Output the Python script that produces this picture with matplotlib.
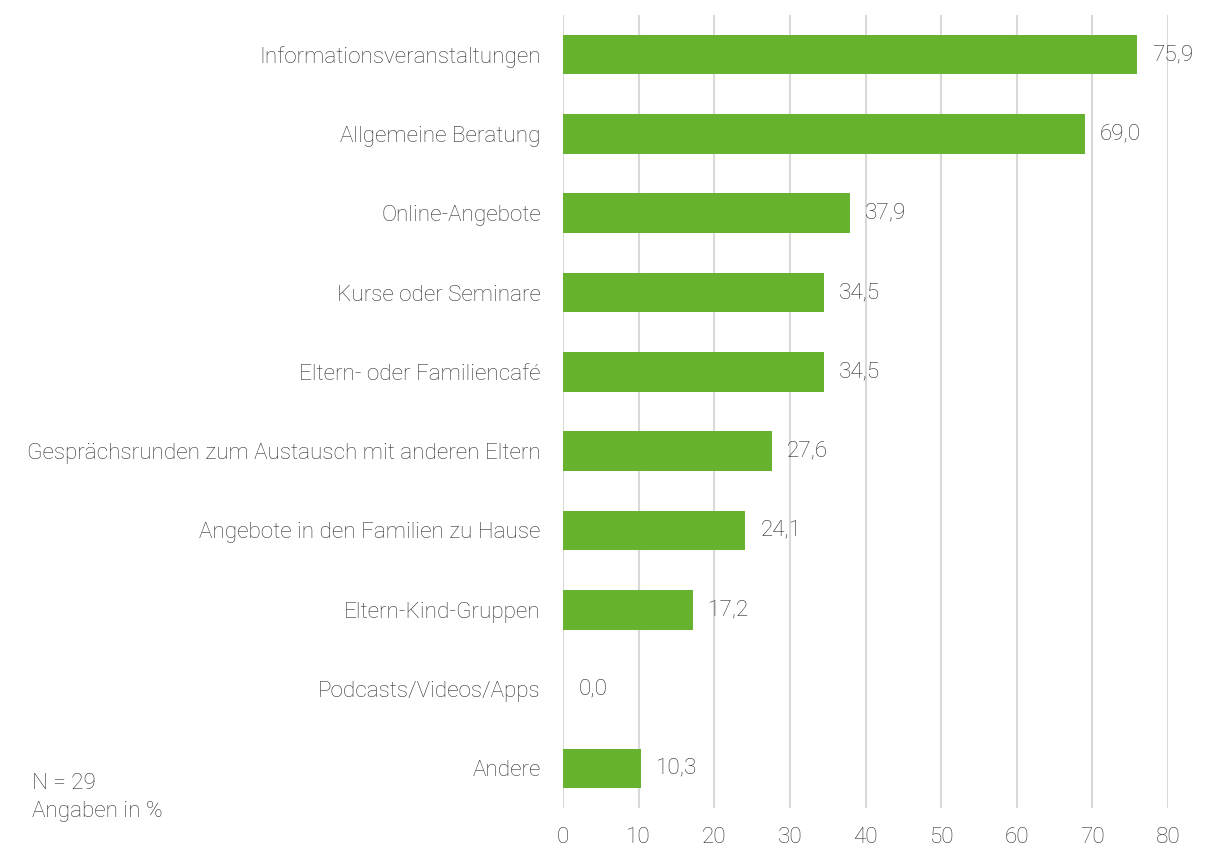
import matplotlib.pyplot as plt

categories = ['Informationsveranstaltungen', 'Allgemeine Beratung', 'Online-Angebote',
              'Kurse oder Seminare', 'Eltern- oder Familiencafé',
              'Gesprächsrunden zum Austausch mit anderen Eltern',
              'Angebote in den Familien zu Hause', 'Eltern-Kind-Gruppen',
              'Podcasts/Videos/Apps', 'Andere']
values = [75.9, 69.0, 37.9, 34.5, 34.5, 27.6, 24.1, 17.2, 0.0, 10.3]
xticks = [0, 10, 20, 30, 40, 50, 60, 70, 80]

plt.rcParams['font.family'] = ['Roboto', 'DejaVu Sans']
plt.rcParams['font.weight'] = 'light'
FS = 16.2
TXT = '#333333'

fig = plt.figure(figsize=(12.05, 8.47), dpi=100)
ax = fig.add_axes([563/1205, 1 - 808/847, (1168-563)/1205, (808-15)/847])

y = list(range(len(categories)))
ax.barh(y, values, height=0.5, color='#67b330', zorder=3)
ax.set_ylim(len(categories) - 0.5, -0.5)
ax.set_xlim(0, 80)
ax.set_xticks(xticks)
ax.set_yticks(y)
ax.set_yticklabels(categories, fontweight='light')
ax.set_xticklabels([str(t) for t in xticks], fontweight='light')
ax.tick_params(axis='y', length=0, pad=16, labelsize=FS, labelcolor=TXT)
ax.tick_params(axis='x', length=0, pad=14, labelsize=FS, labelcolor=TXT)
for s in ax.spines.values():
    s.set_visible(False)
ax.grid(axis='x', color='#d9d9d9', lw=1.5, zorder=0)

for yi, v in zip(y, values):
    ax.text(v + 2.0, yi, f'{v:.1f}'.replace('.', ','), va='center', ha='left',
            fontsize=FS, color='#2a2a2a', fontweight='light')

fig.text(32/1205, 1 - 783/847, 'N = 29', fontsize=FS, color=TXT, va='center', fontweight='light')
fig.text(32/1205, 1 - 811/847, 'Angaben in %', fontsize=FS, color=TXT, va='center', fontweight='light')

fig.savefig('out.png', dpi=100)
